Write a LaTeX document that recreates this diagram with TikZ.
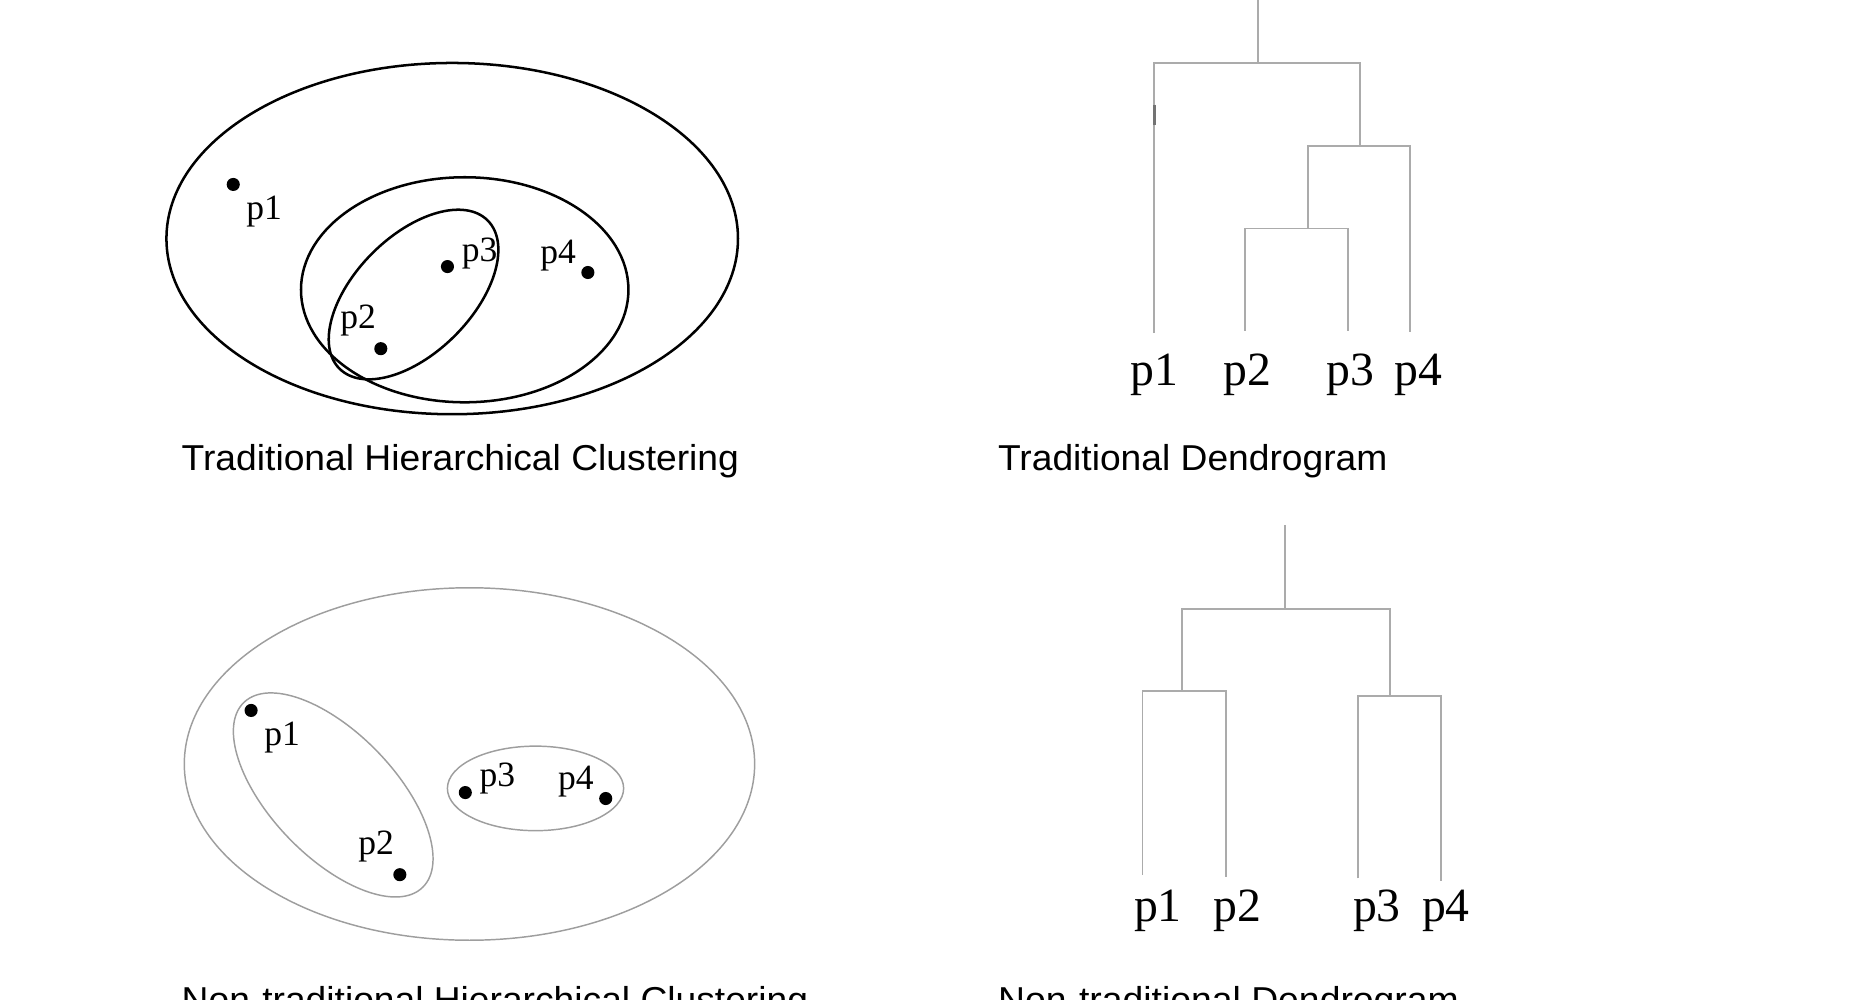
\documentclass[tikz,border=0pt]{standalone}
\usepackage{fontspec}
\usepackage{graphicx}
\setmainfont{Liberation Serif}
\newfontfamily\capfont{Liberation Sans}
\begin{document}
\begin{tikzpicture}[x=0.01cm,y=-0.01cm,
  blackell/.style={draw=black,line width=0.6pt},
  grayell/.style={draw=black!38,line width=0.35pt},
  dline/.style={draw=black!33,line width=0.45pt},
  dotmark/.style={fill=black},
  small/.style={font=\fontsize{8.5}{10}\selectfont,inner sep=0pt},
  big/.style={font=\fontsize{11.4}{13}\selectfont,inner sep=0pt},
  captxt/.style={anchor=base west,inner sep=0pt,font=\capfont\fontsize{8.6}{10}\selectfont}]
\useasboundingbox (0,0) rectangle (1568,840);
% ---------- top left ----------
\draw[blackell] (380,200.5) ellipse [x radius=2.40cm, y radius=1.475cm];
\draw[blackell] (390.5,243.5) ellipse [x radius=1.375cm, y radius=0.945cm];
\draw[blackell,rotate around={45:(347.5,247.5)}] (347.5,247.5) ellipse [x radius=0.88cm, y radius=0.49cm];
\fill[dotmark] (196,155) circle [radius=0.055cm];
\fill[dotmark] (376,224) circle [radius=0.055cm];
\fill[dotmark] (494,229) circle [radius=0.055cm];
\fill[dotmark] (320,293) circle [radius=0.055cm];
\node[small] (a1) at (222,178) {p1};
\node[small] (a3) at (403,213) {p3};
\node[small] (a4) at (469,215) {p4};
\node[small] (a2) at (301,269) {p2};
\node[captxt] (c1) at (152,395) {\resizebox{4.68cm}{\height}{Traditional Hierarchical Clustering}};
% ---------- top right ----------
\node[big] (b1) at (970,315) {p1};
\node[big] (b2) at (1048,315) {p2};
\node[big] (b3) at (1135,315) {p3};
\node[big] (b4) at (1192,315) {p4};
\draw[dline] (1057,0) -- (1057,53);
\draw[dline] (970,280) -- (970,53) -- (1143,53) -- (1143,123);
\draw[dline] (1099,192) -- (1099,123) -- (1185,123) -- (1185,279);
\draw[dline] (1046,278) -- (1046,192) -- (1133,192) -- (1133,278);
\draw[draw=black!55,line width=0.6pt] (970,88) -- (970,105);
\node[captxt] (c2) at (838,395) {\resizebox{3.27cm}{\height}{Traditional Dendrogram}};
% ---------- bottom left ----------
\draw[grayell] (394.5,642) ellipse [x radius=2.395cm, y radius=1.48cm];
\draw[grayell,rotate around={-46:(280,668)}] (280,668) ellipse [x radius=1.08cm, y radius=0.52cm];
\draw[grayell] (450,662.5) ellipse [x radius=0.74cm, y radius=0.355cm];
\fill[dotmark] (211,597) circle [radius=0.055cm];
\fill[dotmark] (336,735) circle [radius=0.055cm];
\fill[dotmark] (391,666) circle [radius=0.055cm];
\fill[dotmark] (509,671) circle [radius=0.055cm];
\node[small] (d1) at (237,620) {p1};
\node[small] (d3) at (418,654) {p3};
\node[small] (d4) at (484,657) {p4};
\node[small] (d2) at (316,711) {p2};
\node[captxt] (c3) at (152,851) {\resizebox{5.26cm}{\height}{Non-traditional Hierarchical Clustering}};
% ---------- bottom right ----------
\node[big] (e1) at (973,765) {p1};
\node[big] (e2) at (1040,765) {p2};
\node[big] (e3) at (1157,765) {p3};
\node[big] (e4) at (1215,765) {p4};
\draw[dline] (1080,441) -- (1080,512);
\draw[dline] (993,581) -- (993,512) -- (1168,512) -- (1168,585);
\draw[dline] (960,735) -- (960,581) -- (1030,581) -- (1030,737);
\draw[dline] (1141,738) -- (1141,585) -- (1211,585) -- (1211,740);
\node[captxt] (c4) at (838,851) {\resizebox{3.87cm}{\height}{Non-traditional Dendrogram}};
\end{tikzpicture}
\end{document}
